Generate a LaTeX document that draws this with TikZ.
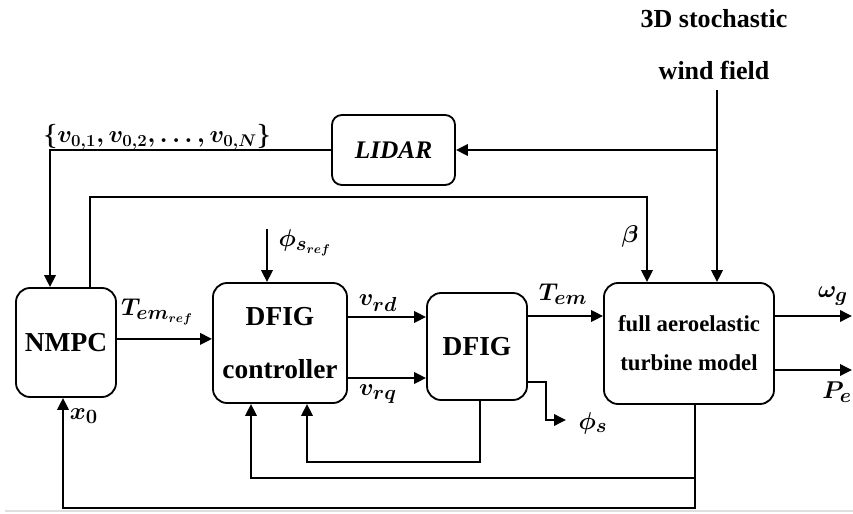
\documentclass[tikz,border=0pt]{standalone}
\usepackage{fontspec}
\setmainfont{Liberation Serif}
\usepackage{tikz}
\usetikzlibrary{positioning,arrows.meta}

\begin{document}
\begin{tikzpicture}[
  block/.style={draw, line width=1.3pt, rounded corners=#1, align=center, font=\fontsize{19.5}{38}\selectfont\bfseries},
  block/.default=10pt,
  sig/.style={font=\fontsize{19}{22}\selectfont\boldmath, inner sep=1pt},
  head/.style={font=\fontsize{18.5}{22}\selectfont\bfseries, inner sep=1pt},
  arr/.style={line width=1.8pt, -{Triangle[length=8.5pt,width=8pt]}},
  wire/.style={line width=1.8pt}
]
  \useasboundingbox (0,0) rectangle (21.325,-12.85);

  \node[block, minimum width=2.5cm, minimum height=2.725cm] (nmpc) at (1.65,-8.5625) {NMPC};
  \node[block, minimum width=3.35cm, minimum height=3cm] (ctrl) at (7,-8.575) {DFIG\\controller};
  \node[block, minimum width=2.5cm, minimum height=2.675cm] (dfig) at (11.925,-8.6625) {DFIG};
  \node[block, minimum width=4.25cm, minimum height=3.025cm, font=\fontsize{16.2}{27.7}\selectfont\bfseries] (turbine) at (17.225,-8.5875) {full aeroelastic\\turbine model};
  \node[block=7pt, minimum width=3.075cm, minimum height=1.75cm, font=\fontsize{18}{20}\selectfont\bfseries\itshape] (lidar) at (9.8375,-3.75) {LIDAR};

  \node[head] (windA) at (17.85,-0.475) {3D stochastic};
  \node[head] (windB) at (17.85,-1.75) {wind field};
  \coordinate (wind) at (17.925,-2.25);
  \coordinate (betatop) at (16.175,-4.925);
  \coordinate (phiref) at (6.675,-5.725);
  \coordinate (omegaend) at (21.3,-7.9);
  \coordinate (peend) at (21.3,-9.25);
  \coordinate (phicorner) at (13.65,-9.55);
  \coordinate (phiend) at (14.15,-10.5);
  \coordinate (loopin) at (7.675,-11.55);
  \coordinate (loopmid) at (6.275,-11.95);
  \coordinate (loopout) at (1.575,-12.7);

  % wind field, LIDAR preview and pitch
  \draw[arr] (wind) -- (wind |- turbine.north);
  \draw[arr] (wind |- lidar.east) -- (lidar.east);
  \draw[arr] (lidar.west) -| ([xshift=-0.4cm]nmpc.north);
  \draw[arr] ([xshift=0.6cm]nmpc.north) |- (betatop) -- (betatop |- turbine.north);

  % forward path
  \draw[arr] ([yshift=0.09cm]nmpc.east) -- ([yshift=0.09cm]nmpc.east -| ctrl.west);
  \draw[arr] (phiref) -- (phiref |- ctrl.north);
  \draw[arr] ([yshift=0.65cm]ctrl.east) -- ([yshift=0.65cm]ctrl.east -| dfig.west);
  \draw[arr] ([yshift=-0.875cm]ctrl.east) -- ([yshift=-0.875cm]ctrl.east -| dfig.west);
  \draw[arr] ([yshift=0.7625cm]dfig.east) -- ([yshift=0.7625cm]dfig.east -| turbine.west);
  \draw[arr] (turbine.east |- omegaend) -- (omegaend);
  \draw[arr] (turbine.east |- peend) -- (peend);
  \draw[arr] (dfig.east |- phicorner) -- (phicorner) |- (phiend);

  % feedback loops
  \draw[arr] ([xshift=0.075cm]dfig.south) |- (loopin) -- (loopin |- ctrl.south);
  \draw[arr] ([xshift=0.15cm]turbine.south) |- (loopmid) -- (loopmid |- ctrl.south);
  \draw[arr] ([xshift=0.15cm]turbine.south) |- (loopout) -- (loopout |- nmpc.south);

  \node[sig, font=\fontsize{16.8}{20}\selectfont\boldmath] (vset) at (3.93,-3.42) {$\{v_{0,1}, v_{0,2}, \dots, v_{0,N}\}$};
  \node[sig] (temref) at (3.93,-7.8) {$T_{em_{ref}}$};
  \node[sig] (phisref) at (7.625,-6.075) {$\phi_{s_{ref}}$};
  \node[sig] (vrd) at (9.45,-7.575) {$v_{rd}$};
  \node[sig] (vrq) at (9.45,-9.85) {$v_{rq}$};
  \node[sig] (tem) at (14.075,-7.35) {$T_{em}$};
  \node[sig] (beta) at (15.75,-5.9) {$\beta$};
  \node[sig] (omegag) at (20.825,-7.4) {$\omega_g$};
  \node[sig] (pe) at (20.925,-9.8) {$P_e$};
  \node[sig] (phis) at (14.825,-10.575) {$\phi_s$};
  \node[sig] (xzero) at (2.1,-10.4) {$x_0$};

  \draw[gray!25, line width=1pt] (0.125,-12.775) -- (21.325,-12.775);
\end{tikzpicture}
\end{document}
